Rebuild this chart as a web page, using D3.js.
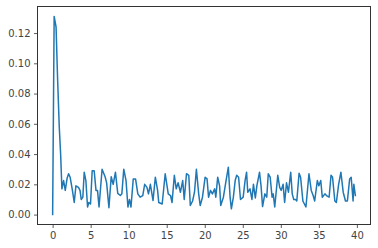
<!DOCTYPE html>
<html>
<head>
<meta charset="utf-8">
<script src="https://cdn.jsdelivr.net/npm/d3@7"></script>
<style>
  html, body { margin: 0; padding: 0; background: #fff; }
  svg { display: block; }
  .tick text { font-family: "DejaVu Sans", sans-serif; font-size: 10px; fill: #444; }
</style>
</head>
<body>
<div id="body"></div>
<script>
// values
var tValues = [0, 0.2, 0.45, 0.65, 0.87, 1.05, 1.22, 1.44, 1.66, 1.9, 2.1, 2.3, 2.6, 2.84, 3.06, 3.4, 3.6, 3.76, 3.97,
  4.15, 4.37, 4.59, 4.76, 4.98, 5.2, 5.46, 5.7, 5.9, 6.1, 6.5, 6.9, 7.1, 7.4, 7.7, 7.96, 8.26, 8.56, 8.9, 9.1,
  9.35, 9.65, 9.9, 10.1, 10.3, 10.6, 10.9, 11.2, 11.5, 11.85, 12.1, 12.4, 12.6, 12.85, 13.2, 13.5, 13.8, 13.95,
  14.4, 14.8, 15.2, 15.5, 15.7, 16.0, 16.25, 16.5, 16.8, 17.1, 17.3, 17.6, 17.9, 18.1, 18.4, 18.65, 18.9, 19.2,
  19.4, 19.7, 20.05, 20.3, 20.5, 20.75, 21.0, 21.3, 21.45, 21.7, 21.95, 22.1, 22.45, 22.8, 23.1, 23.33, 23.5,
  23.76, 24.0, 24.2, 24.45, 24.7, 25.05, 25.3, 25.5, 25.65, 25.95, 26.2, 26.4, 26.65, 26.85, 27.2, 27.4, 27.6,
  27.9, 28.15, 28.35, 28.6, 28.85, 29.0, 29.2, 29.6, 29.85, 30.05, 30.3, 30.5, 30.75, 31.0, 31.3, 31.5, 31.7,
  31.95, 32.1, 32.4, 32.6, 32.9, 33.3, 33.7, 34.0, 34.25, 34.45, 34.8, 35.0, 35.25, 35.45, 35.8, 36.0, 36.35,
  36.6, 36.8, 37.1, 37.3, 37.6, 37.9, 38.2, 38.5, 38.75, 39.05, 39.25, 39.5, 39.6, 39.8];
var yValues = [0, 0.131, 0.124, 0.09, 0.058, 0.04, 0.017, 0.0225, 0.016, 0.024, 0.027, 0.0247, 0.016, 0.008, 0.019, 0.018, 0.016, 0.010, 0.0115,
  0.028, 0.0225, 0.005, 0.008, 0.007, 0.029, 0.029, 0.016, 0.016, 0.005, 0.030, 0.025, 0.021, 0.0045, 0.025, 0.020, 0.028, 0.014, 0.0126, 0.0137,
  0.030, 0.0225, 0.005, 0.010, 0.005, 0.0236, 0.0236, 0.0137, 0.0115, 0.0126, 0.020, 0.018, 0.0137, 0.020, 0.0093, 0.0247, 0.016, 0.008,
  0.007, 0.027, 0.0137, 0.0126, 0.008, 0.026, 0.017, 0.021, 0.0148, 0.0225, 0.010, 0.027, 0.026, 0.006, 0.009, 0.0148, 0.030, 0.0137,
  0.006, 0.0115, 0.0247, 0.0236, 0.0115, 0.016, 0.0137, 0.017, 0.0115, 0.0247, 0.019, 0.006, 0.0115, 0.0225, 0.0313, 0.0115, 0.0038,
  0.0115, 0.0225, 0.026, 0.0247, 0.010, 0.0115, 0.0225, 0.028, 0.0148, 0.017, 0.010, 0.020, 0.011, 0.019, 0.028, 0.019, 0.0053,
  0.0137, 0.0115, 0.027, 0.0247, 0.0115, 0.0137, 0.005, 0.026, 0.018, 0.016, 0.020, 0.008, 0.021, 0.0148, 0.028, 0.0137, 0.010,
  0.010, 0.009, 0.0273, 0.0247, 0.009, 0.005, 0.027, 0.016, 0.0126, 0.009, 0.0225, 0.019, 0.0225, 0.0115, 0.0137, 0.0126, 0.0115,
  0.026, 0.0247, 0.009, 0.008, 0.020, 0.028, 0.0148, 0.009, 0.009, 0.0236, 0.0247, 0.009, 0.020, 0.0126];
var xTicks = [0, 5, 10, 15, 20, 25, 30, 35, 40];
var yTicks = [0, 0.02, 0.04, 0.06, 0.08, 0.10, 0.12];

var width = 378, height = 248;
var box = { left: 37.5, right: 370.5, top: 6.5, bottom: 224.5 };

var svg = d3.select("#body").append("svg")
  .attr("width", width)
  .attr("height", height);

// matplotlib style 5% margins
var xMin = d3.min(tValues), xMax = d3.max(tValues);
var yMin = d3.min(yValues), yMax = d3.max(yValues);
var xPad = (xMax - xMin) * 0.05, yPad = (yMax - yMin) * 0.05;

var xScale = d3.scaleLinear().domain([xMin - xPad, xMax + xPad]).range([box.left, box.right]);
var yScale = d3.scaleLinear().domain([yMin - yPad, yMax + yPad]).range([box.bottom, box.top]);

var xAxis = d3.axisBottom(xScale).tickValues(xTicks).tickSize(3.5).tickPadding(3.5).tickFormat(d3.format("d"));
var yAxis = d3.axisLeft(yScale).tickValues(yTicks).tickSize(3.5).tickPadding(3.5).tickFormat(d3.format(".2f"));

var gx = svg.append("g").attr("transform", "translate(0," + box.bottom + ")").call(xAxis);
var gy = svg.append("g").attr("transform", "translate(" + box.left + ",0)").call(yAxis);
[gx, gy].forEach(function (g) {
  g.select(".domain").remove();
  g.selectAll(".tick line").attr("stroke", "#333").attr("stroke-width", 0.8);
});

// line
var line = d3.line()
  .x(function (d, i) { return xScale(tValues[i]); })
  .y(function (d) { return yScale(d); });

svg.append("path")
  .datum(yValues)
  .attr("fill", "none")
  .attr("stroke", "#1f77b4")
  .attr("stroke-width", 1.5)
  .attr("stroke-linejoin", "round")
  .attr("stroke-linecap", "square")
  .attr("d", line);

// frame
svg.append("rect")
  .attr("x", box.left)
  .attr("y", box.top)
  .attr("width", box.right - box.left)
  .attr("height", box.bottom - box.top)
  .attr("fill", "none")
  .attr("stroke", "#333")
  .attr("stroke-width", 1);
</script>
</body>
</html>
